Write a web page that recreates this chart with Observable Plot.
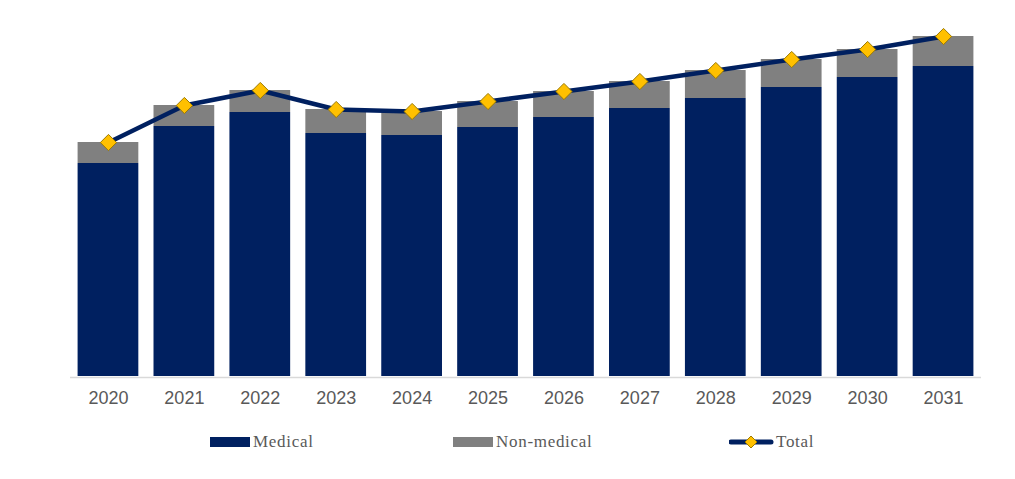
<!DOCTYPE html>
<html>
<head>
<meta charset="utf-8">
<script src="https://cdn.jsdelivr.net/npm/d3@7"></script>
<script src="https://cdn.jsdelivr.net/npm/@observablehq/plot@0.6"></script>
<style>
  html, body { margin: 0; padding: 0; background: #fff; }
  #wrap { position: relative; width: 1015px; height: 479px; }
  #chart svg { display: block; }
  .lg { position: absolute; top: 430px; height: 24px; display: flex; align-items: center;
        font-family: "Liberation Serif", "Times New Roman", serif; font-size: 17px;
        letter-spacing: 0.7px; color: #595959; }
  .sw { width: 40px; height: 10px; margin-right: 3px; }
</style>
</head>
<body>
<div id="wrap">
  <div id="chart"></div>
  <div class="lg" style="left:210px"><div class="sw" style="background:#002060"></div>Medical</div>
  <div class="lg" style="left:453px"><div class="sw" style="background:#808080"></div>Non-medical</div>
  <div class="lg" style="left:729px">
    <svg width="45" height="16" style="margin-right:2px">
      <line x1="2" y1="8" x2="42" y2="8" stroke="#002060" stroke-width="5" stroke-linecap="round"/>
      <path d="M22,2 L28,8 L22,14 L16,8 Z" fill="#FFC000" stroke="#9C7A00" stroke-width="1"/>
    </svg>Total</div>
</div>
<script>
const years = ["2020","2021","2022","2023","2024","2025","2026","2027","2028","2029","2030","2031"];
const medical = [21.3, 25.0, 26.4, 24.3, 24.1, 24.9, 25.9, 26.8, 27.8, 28.9, 29.9, 31.0];
const nonMedical = [2.1, 2.1, 2.2, 2.4, 2.4, 2.6, 2.6, 2.7, 2.8, 2.8, 2.8, 3.0];

const stacked = [];
years.forEach((y, i) => {
  stacked.push({year: y, type: "Medical", value: medical[i]});
  stacked.push({year: y, type: "Non-medical", value: nonMedical[i]});
});
const totals = years.map((y, i) => ({year: y, total: medical[i] + nonMedical[i]}));

const chart = Plot.plot({
  width: 1015,
  height: 420,
  marginLeft: 70,
  marginRight: 34,
  marginTop: 16,
  marginBottom: 44,
  style: {fontFamily: "Liberation Sans, Arial, sans-serif", fontSize: "18px", color: "#595959", background: "#fff"},
  x: {domain: years, paddingInner: 0.2, paddingOuter: 0.1, round: false, tickSize: 0, tickPadding: 15, label: null},
  y: {domain: [0, 36], axis: null},
  color: {domain: ["Medical", "Non-medical"], range: ["#002060", "#808080"]},
  marks: [
    Plot.barY(stacked, {x: "year", y: "value", fill: "type"}),
    Plot.ruleY([0], {stroke: "#d9d9d9", strokeWidth: 1.5, dy: 1}),
    Plot.line(totals, {x: "year", y: "total", stroke: "#002060", strokeWidth: 4.5, strokeLinejoin: "round", strokeLinecap: "round"}),
    Plot.dot(totals, {x: "year", y: "total", symbol: "diamond2", r: 7.3, fill: "#FFC000", stroke: "#9C7A00", strokeWidth: 1})
  ]
});
document.getElementById("chart").appendChild(chart);
</script>
</body>
</html>
